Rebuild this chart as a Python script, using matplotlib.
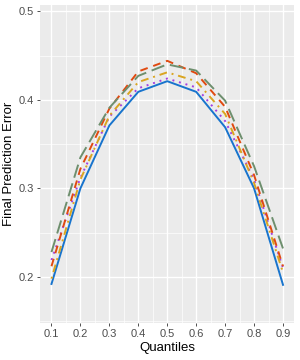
import numpy as np
import matplotlib
matplotlib.use('Agg')
import matplotlib.pyplot as plt
from matplotlib.ticker import MultipleLocator

plt.rcParams['font.family'] = ['Liberation Sans', 'DejaVu Sans']

quantiles = [0.1, 0.2, 0.3, 0.4, 0.5, 0.6, 0.7, 0.8, 0.9]

# five methods
blue   = [0.192, 0.300, 0.371, 0.409, 0.421, 0.409, 0.369, 0.300, 0.191]
purple = [0.219, 0.312, 0.381, 0.413, 0.424, 0.414, 0.376, 0.310, 0.210]
orange = [0.198, 0.310, 0.382, 0.420, 0.431, 0.421, 0.384, 0.306, 0.205]
red    = [0.212, 0.322, 0.390, 0.432, 0.444, 0.430, 0.392, 0.315, 0.212]
green  = [0.228, 0.335, 0.391, 0.427, 0.440, 0.433, 0.399, 0.325, 0.232]

fig = plt.figure(figsize=(3.0, 3.6), dpi=100)
ax = fig.add_axes([0.133, 0.103, 0.847, 0.883])
ax.set_facecolor('#EBEBEB')

ax.plot(quantiles, blue, color='#1874CD', lw=1.4, ls='-')
ax.plot(quantiles, purple, color='#A43FE0', lw=1.4, ls=(0, (1, 2.5)))
ax.plot(quantiles, orange, color='#DAA520', lw=1.4, ls=(0, (1, 2.5, 4, 2.5)))
ax.plot(quantiles, red, color='#E04A10', lw=1.4, ls=(0, (4, 3)))
ax.plot(quantiles, green, color='#6E8F6E', lw=1.4, ls=(0, (7, 3)))

ax.set_xlim(0.06, 0.938)
ax.set_ylim(0.148, 0.507)
ax.set_xticks(quantiles)
ax.set_xticklabels(['0.1', '0.2', '0.3', '0.4', '0.5', '0.6', '0.7', '0.8', '0.9'])
ax.set_yticks([0.2, 0.3, 0.4, 0.5])
ax.set_yticklabels(['0.2', '0.3', '0.4', '0.5'])
ax.xaxis.set_minor_locator(MultipleLocator(0.1, offset=0.05))
ax.yaxis.set_minor_locator(MultipleLocator(0.1, offset=0.05))

ax.grid(which='major', color='white', lw=1.0)
ax.grid(which='minor', color='white', lw=0.5)
ax.set_axisbelow(True)
for s in ax.spines.values():
    s.set_visible(False)

ax.tick_params(which='major', length=2.5, width=0.6, color='#333333',
               labelcolor='#4D4D4D', labelsize=8, pad=2)
ax.tick_params(which='minor', length=0)

ax.set_xlabel('Quantiles', fontsize=9.5, labelpad=2)
ax.set_ylabel('Final Prediction Error', fontsize=9.5, labelpad=2)

fig.savefig('out.png', dpi=100, facecolor='white')
